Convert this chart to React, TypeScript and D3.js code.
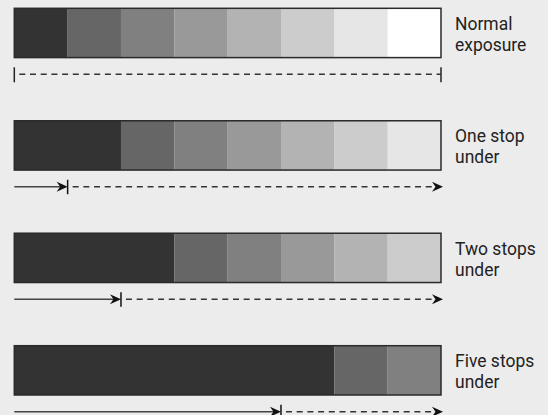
import React from "react";
import * as d3 from "d3";

const tones = ["#333333", "#666666", "#808080", "#999999", "#b3b3b3", "#cccccc", "#e6e6e6", "#ffffff"];
const stopsUnder = [0, 1, 2, 5];
const labelLine1 = ["Normal", "One stop", "Two stops", "Five stops"];
const labelLine2 = ["exposure", "under", "under", "under"];
const segmentCount = 8;

const W = 548;
const H = 415;

export default function App() {
  const x = d3.scaleLinear().domain([0, segmentCount]).range([14.3, 441]);
  const rowTop = d3.scaleLinear().domain([0, stopsUnder.length - 1]).range([8.3, 345.7]);
  const barH = 49.3;
  const arrowOff = 66;

  const head = (tx: number, y: number) =>
    `M${tx},${y} L${tx - 11},${y - 5} L${tx - 7.5},${y} L${tx - 11},${y + 5} Z`;

  return (
    <svg
      width={W}
      height={H}
      style={{ position: "absolute", left: 0, top: 0, background: "#ececec" }}
    >
      <rect x={0} y={0} width={W} height={H} fill="#ececec" />
      {stopsUnder.map((k, i) => {
        const top = rowTop(i);
        const segs: { x0: number; x1: number; c: string }[] = [];
        segs.push({ x0: 0, x1: k + 1, c: tones[0] });
        for (let j = 1; j < segmentCount - k; j++) {
          segs.push({ x0: k + j, x1: k + j + 1, c: tones[j] });
        }
        const ay = top + arrowOff;
        const tickX = x(k);
        return (
          <g key={i}>
            {segs.map((s, j) => (
              <rect
                key={j}
                x={x(s.x0)}
                y={top}
                width={x(s.x1) - x(s.x0)}
                height={barH}
                fill={s.c}
              />
            ))}
            <rect
              x={x(0)}
              y={top}
              width={x(segmentCount) - x(0)}
              height={barH}
              fill="none"
              stroke="#2a2a2a"
              strokeWidth={1.5}
            />
            <text
              transform={`translate(455,${top + 21.3}) scale(0.92,1)`}
              fontFamily="Roboto, 'Liberation Sans', sans-serif"
              fontSize={19}
              fill="#222"
            >
              {labelLine1[i]}
            </text>
            <text
              transform={`translate(455,${top + 42.3}) scale(0.92,1)`}
              fontFamily="Roboto, 'Liberation Sans', sans-serif"
              fontSize={19}
              fill="#222"
            >
              {labelLine2[i]}
            </text>
            {k === 0 ? (
              <g>
                <line x1={x(0)} x2={x(0)} y1={ay - 7} y2={ay + 8} stroke="#222" strokeWidth={1.5} />
                <line x1={x(segmentCount)} x2={x(segmentCount)} y1={ay - 7} y2={ay + 8} stroke="#222" strokeWidth={1.5} />
                <line
                  x1={x(0) + 5}
                  x2={x(segmentCount)}
                  y1={ay}
                  y2={ay}
                  stroke="#333"
                  strokeWidth={1.5}
                  strokeDasharray="6,4.7"
                />
              </g>
            ) : (
              <g>
                <line x1={x(0)} x2={tickX - 6} y1={ay} y2={ay} stroke="#444" strokeWidth={1.5} />
                <path d={head(tickX, ay)} fill="#111" />
                <line x1={tickX} x2={tickX} y1={ay - 7} y2={ay + 7.5} stroke="#111" strokeWidth={1.5} />
                <line
                  x1={tickX + 5}
                  x2={x(segmentCount) - 4}
                  y1={ay}
                  y2={ay}
                  stroke="#333"
                  strokeWidth={1.5}
                  strokeDasharray="6,4.7"
                />
                <path d={head(x(segmentCount) + 2, ay)} fill="#111" />
              </g>
            )}
          </g>
        );
      })}
    </svg>
  );
}
